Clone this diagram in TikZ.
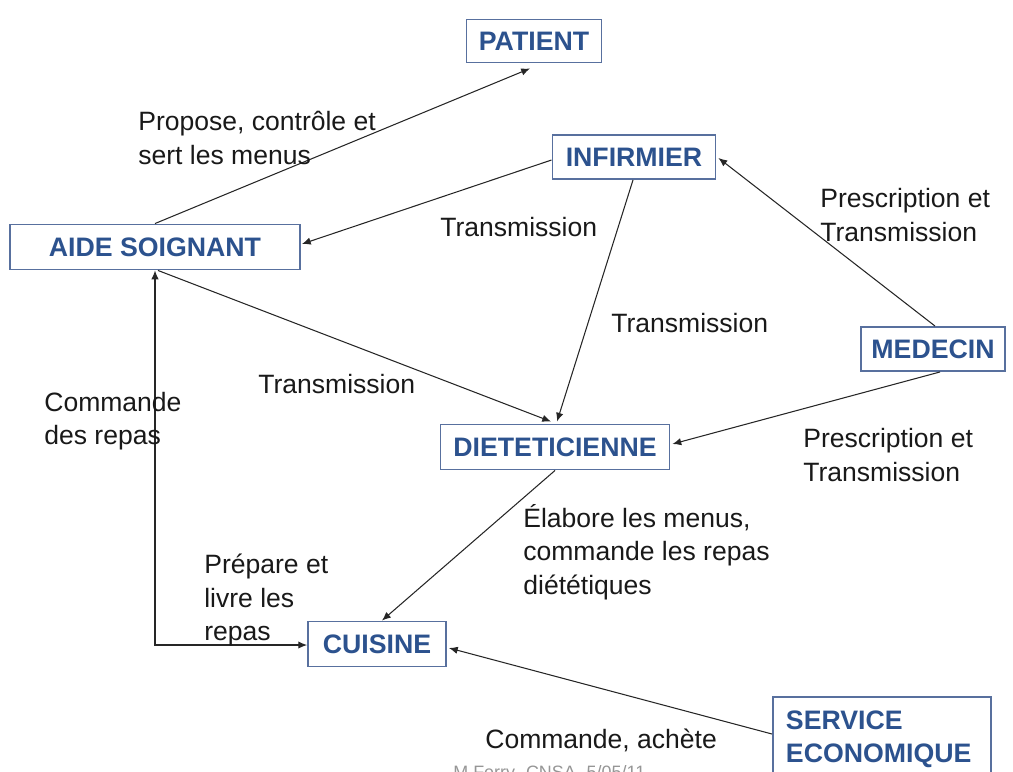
\documentclass[tikz,border=0pt]{standalone}
\usepackage{fontspec}
\setmainfont{Liberation Sans}
\usetikzlibrary{calc,arrows.meta}
\definecolor{boxtext}{RGB}{44,82,142}
\definecolor{boxline}{RGB}{88,112,158}
\definecolor{foot}{RGB}{150,150,150}
\begin{document}
\begin{tikzpicture}[x=0.02cm,y=-0.02cm,
  actor/.style={draw=boxline,line width=1.1pt,fill=white,text=boxtext,
    font=\fontsize{15.2pt}{18.7pt}\selectfont\bfseries,inner sep=0pt},
  lbl/.style={anchor=west,align=left,inner sep=0pt,text=black!90,
    font=\fontsize{15.1pt}{19.2pt}\selectfont},
  link/.style={line width=0.6pt,draw=black!85,-{Latex[length=5pt,width=4.2pt]}}]
\useasboundingbox (0,0) rectangle (1013,771);
\clip (0,0) rectangle (1013,771);

% actors
\node[actor,minimum width=2.7cm,minimum height=0.86cm] (patient) at (534,41) {PATIENT};
\node[actor,minimum width=5.8cm,minimum height=0.9cm] (aide) at (155,247) {AIDE SOIGNANT\hspace{0.2cm}};
\node[actor,minimum width=3.26cm,minimum height=0.88cm] (infirmier) at (634,157) {INFIRMIER};
\node[actor,minimum width=2.88cm,minimum height=0.88cm] (medecin) at (933,349) {MEDECIN};
\node[actor,minimum width=4.58cm,minimum height=0.9cm] (diet) at (555,447) {DIETETICIENNE};
\node[actor,minimum width=2.76cm,minimum height=0.9cm] (cuisine) at (377,644) {CUISINE};
\node[actor,anchor=north west,align=left,text width=4.36cm-0.52cm,
  inner xsep=0.26cm,inner ysep=0.28cm] (service) at (772,696) {SERVICE\\ECONOMIQUE};

% flows
\draw[link] (aide.north) -- ($(patient.south)+(-4,5)$);
\draw[link] ($(infirmier.west)+(0,3)$) -- ($(aide.east)+(1,-3)$);
\draw[link] ($(infirmier.south)+(-1,0)$) -- ($(diet.north)+(2,-2)$);
\draw[link] ($(aide.south)+(3,0)$) -- ($(diet.north)+(-4,-2)$);
\draw[link] ($(medecin.north)+(2,0)$) -- ($(infirmier.east)+(2,1)$);
\draw[link] ($(medecin.south)+(7,0)$) -- ($(diet.east)+(2,-3)$);
\draw[link] ($(diet.south)+(0,0)$) -- ($(cuisine.north)+(5,0)$);
\draw[link,{Latex[length=5pt,width=4.2pt]}-{Latex[length=5pt,width=4.2pt]}]
  (aide.south) |- ($(cuisine.west)+(0,1)$);
\draw[link] ($(service.north west)+(0,38)$) -- ($(cuisine.east)+(2,4)$);

% flow labels
\node[lbl] (tPropose) at (138,138) {Propose, contrôle et\\sert les menus};
\node[lbl] (tTransA) at (440,227) {Transmission};
\node[lbl] (tPrescA) at (820,215) {Prescription et\\Transmission};
\node[lbl] (tTransB) at (611,323) {Transmission};
\node[lbl] (tTransC) at (258,384) {Transmission};
\node[lbl] (tCommande) at (44,421) {Commande\\des repas};
\node[lbl] (tPrescB) at (803,455) {Prescription et\\Transmission};
\node[lbl] (tElabore) at (523,552) {Élabore les menus,\\commande les repas\\diététiques};
\node[lbl] (tPrepare) at (204,600) {Prépare et\\livre les\\repas};
\node[lbl] (tAchete) at (485,740) {Commande, achète};
\node[anchor=base west,inner sep=0pt,text=foot,font=\fontsize{10.2pt}{12pt}\selectfont]
  (footer) at (453,778) {M.Ferry- CNSA- 5/05/11};
\end{tikzpicture}
\end{document}
